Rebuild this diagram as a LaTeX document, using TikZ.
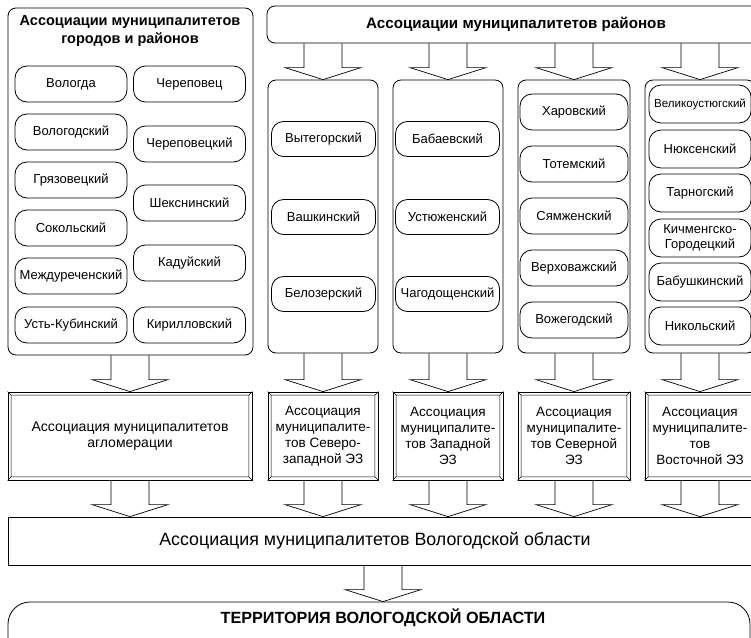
\documentclass[tikz,border=0pt]{standalone}
\usepackage{fontspec}
\setmainfont{Liberation Sans}
\usetikzlibrary{calc}
\tikzset{
  panel/.style={draw, rounded corners=8pt, line width=0.8pt},
  pill/.style={draw, rounded corners=12pt, align=center, inner sep=1pt, line width=0.8pt, font=\fontsize{13}{15}\selectfont},
  pillL/.style={pill, minimum width=112pt, minimum height=36pt},
  pillA/.style={pill, minimum width=104pt, minimum height=35pt},
  pillC/.style={pill, minimum width=108pt, minimum height=36pt},
  pillD/.style={pill, minimum width=102pt, minimum height=38pt},
  colbox/.style={panel, minimum width=110pt, minimum height=273pt},
  assocbox/.style={draw, align=center, inner sep=1pt, line width=0.8pt, minimum height=88pt, font=\fontsize{13.5}{16}\selectfont},
  blockarr/.style={draw, line width=0.7pt, line join=miter},
}
\newcommand\barrow[2]{\draw[blockarr] let \p1=(#1), \p2=(#2) in
  (\x2-19pt,\y1) -- (\x2-19pt,\y2+12pt) -- (\x2-38pt,\y2+12pt) -- (\x2,\y2)
  -- (\x2+38pt,\y2+12pt) -- (\x2+19pt,\y2+12pt) -- (\x2+19pt,\y1);}
\newcommand\bevel[1]{\draw[line width=0.6pt]
  ($(#1.north west)+(3.5,3.5)$) rectangle ($(#1.south east)+(-3.5,-3.5)$)
  (#1.north west) -- ++(3.5,3.5) (#1.north east) -- ++(-3.5,3.5)
  (#1.south west) -- ++(3.5,-3.5) (#1.south east) -- ++(-3.5,-3.5);}
\begin{document}
\begin{tikzpicture}[x=1pt, y=-1pt]
\useasboundingbox (0,0) rectangle (751,637);
\clip (0,0) rectangle (751,637);

% left panel
\node[panel, minimum width=245pt, minimum height=347pt] (cities) at (130.5,181.5) {};
\node[font=\bfseries\fontsize{14.5}{18}\selectfont, align=center] (citiestitle) at (130,31) {Ассоциации муниципалитетов\\городов и районов};
\node[pillL] (p11) at (71,84) {Вологда};
\node[pillL] (p12) at (71,132) {Вологодский};
\node[pillL] (p13) at (71,180) {Грязовецкий};
\node[pillL] (p14) at (71,228) {Сокольский};
\node[pillL] (p15) at (71,276) {Междуреченский};
\node[pillL] (p16) at (71,325) {Усть-Кубинский};
\node[pillL] (p21) at (189.5,84) {Череповец};
\node[pillL] (p22) at (189.5,144) {Череповецкий};
\node[pillL] (p23) at (189.5,203) {Шекснинский};
\node[pillL] (p24) at (189.5,263) {Кадуйский};
\node[pillL] (p25) at (189.5,325) {Кирилловский};

% band
\node[panel, minimum width=498pt, minimum height=37pt, font=\bfseries\fontsize{15.2}{17}\selectfont] (band) at (516,24.5) {Ассоциации муниципалитетов районов};

% columns
\node[colbox] (col1) at (323,216.5) {};
\node[colbox] (col2) at (448,216.5) {};
\node[colbox, minimum width=112pt] (col3) at (574,216.5) {};
\node[colbox] (col4) at (700,216.5) {};

\node[pillA] (a1) at (323.5,139) {Вытегорский};
\node[pillA] (a2) at (323.5,217) {Вашкинский};
\node[pillA] (a3) at (323.5,294) {Белозерский};
\node[pillA] (b1) at (447.5,139) {Бабаевский};
\node[pillA] (b2) at (447.5,217) {Устюженский};
\node[pillA] (b3) at (447.5,294) {Чагодощенский};
\node[pillC] (c1) at (574,112) {Харовский};
\node[pillC] (c2) at (574,164) {Тотемский};
\node[pillC] (c3) at (574,216) {Сямженский};
\node[pillC] (c4) at (574,268) {Верховажский};
\node[pillC] (c5) at (574,320) {Вожегодский};
\node[pillD, font=\fontsize{11.6}{13}\selectfont] (d1) at (700,104) {Великоустюгский};
\node[pillD] (d2) at (700,149) {Нюксенский};
\node[pillD] (d3) at (700,193) {Тарногский};
\node[pillD] (d4) at (700,238) {Кичменгско-\\Городецкий};
\node[pillD] (d5) at (700,282) {Бабушкинский};
\node[pillD] (d6) at (700,326) {Никольский};

% associations
\node[assocbox, minimum width=244pt, font=\fontsize{14}{16}\selectfont] (agg) at (130,436) {Ассоциация муниципалитетов\\агломерации};
\node[assocbox, minimum width=110pt] (nw) at (323,436) {Ассоциация\\муниципалите-\\тов Северо-\\западной ЭЗ};
\node[assocbox, minimum width=110pt] (zap) at (448,436) {Ассоциация\\муниципалите-\\тов Западной\\ЭЗ};
\node[assocbox, minimum width=112pt] (sev) at (574,436) {Ассоциация\\муниципалите-\\тов Северной\\ЭЗ};
\node[assocbox, minimum width=110pt] (vost) at (700,436) {Ассоциация\\муниципалите-\\тов\\Восточной ЭЗ};
\bevel{agg}\bevel{nw}\bevel{zap}\bevel{sev}\bevel{vost}

% oblast
\node[draw, line width=0.8pt, minimum width=757pt, minimum height=48pt] (obl) at (386.5,541) {};
\node[font=\fontsize{17.8}{20}\selectfont] (obltext) at (375,541) {Ассоциация муниципалитетов Вологодской области};

% territory
\node[draw, line width=0.8pt, rounded corners=22pt, minimum width=742pt, minimum height=70pt] (terr) at (379,637) {};
\node[font=\bfseries\fontsize{16.2}{18}\selectfont] (terrtext) at (383,618) {ТЕРРИТОРИЯ ВОЛОГОДСКОЙ ОБЛАСТИ};

% block arrows
\barrow{band.south}{col1.north}
\barrow{band.south}{col2.north}
\barrow{band.south}{col3.north}
\barrow{band.south}{col4.north}
\barrow{cities.south}{agg.north}
\barrow{col1.south}{nw.north}
\barrow{col2.south}{zap.north}
\barrow{col3.south}{sev.north}
\barrow{col4.south}{vost.north}
\barrow{agg.south}{agg.south |- obl.north}
\barrow{nw.south}{nw.south |- obl.north}
\barrow{zap.south}{zap.south |- obl.north}
\barrow{sev.south}{sev.south |- obl.north}
\barrow{vost.south}{vost.south |- obl.north}
\barrow{obl.south}{terrtext.north |- terr.north}
\end{tikzpicture}
\end{document}
